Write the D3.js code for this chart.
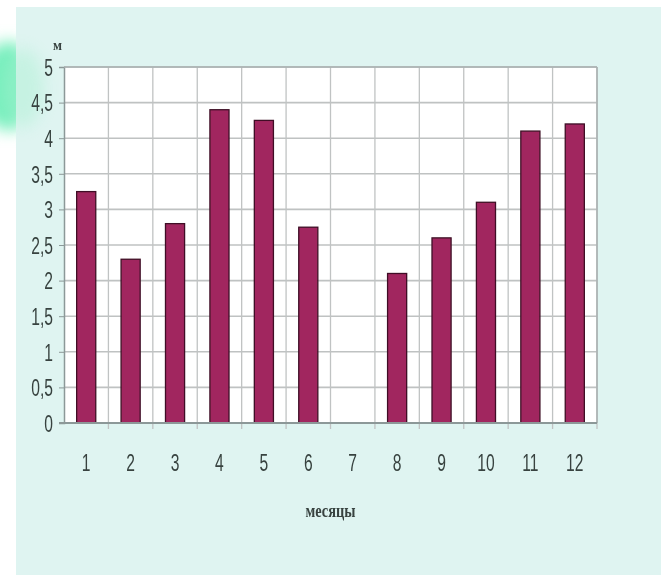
<!DOCTYPE html>
<html>
<head>
<meta charset="utf-8">
<script src="https://cdn.jsdelivr.net/npm/d3@7/dist/d3.min.js"></script>
<style>
  html, body { margin: 0; padding: 0; background: #ffffff; }
  svg { display: block; }
</style>
</head>
<body>
<script>
// Monthly values (м) by month number
const months = ["1", "2", "3", "4", "5", "6", "7", "8", "9", "10", "11", "12"];
const values = [3.25, 2.3, 2.8, 4.4, 4.25, 2.75, 0, 2.1, 2.6, 3.1, 4.1, 4.2];
const yTicks = [0, 0.5, 1, 1.5, 2, 2.5, 3, 3.5, 4, 4.5, 5];
const yUnit = "м";
const xTitle = "месяцы";

const W = 661, H = 587;
const plot = { left: 64, right: 597, top: 67, bottom: 423 };
const labelFont = "'Liberation Sans', Arial, sans-serif";
const squeeze = 0.68; // condensed look for the tick digits

const svg = d3.select("body").append("svg")
  .attr("width", W).attr("height", H);

const defs = svg.append("defs");
defs.append("filter").attr("id", "soft")
  .append("feGaussianBlur").attr("stdDeviation", 0.55);
defs.append("filter").attr("id", "glow")
  .attr("x", "-50%").attr("y", "-50%").attr("width", "200%").attr("height", "200%")
  .append("feGaussianBlur").attr("stdDeviation", 8);

// background panel and the green glow at its left edge
svg.append("rect").attr("x", 0).attr("y", 0).attr("width", W).attr("height", H).attr("fill", "#ffffff");
svg.append("ellipse").attr("cx", 8).attr("cy", 86).attr("rx", 28).attr("ry", 44)
  .attr("fill", "#72efbb").attr("filter", "url(#glow)");
svg.append("rect").attr("x", 16).attr("y", 7).attr("width", W - 16).attr("height", 568)
  .attr("fill", "#dff4f1");
svg.append("ellipse").attr("cx", 22).attr("cy", 88).attr("rx", 22).attr("ry", 40)
  .attr("fill", "#a8f0d0").attr("opacity", 0.45).attr("filter", "url(#glow)");

const g = svg.append("g").attr("filter", "url(#soft)");

const x = d3.scaleBand().domain(months)
  .range([plot.left, plot.right]).paddingInner(0.57).paddingOuter(0.285);
const y = d3.scaleLinear().domain([0, 5]).range([plot.bottom, plot.top]);

// plot area
g.append("rect")
  .attr("x", plot.left).attr("y", plot.top)
  .attr("width", plot.right - plot.left).attr("height", plot.bottom - plot.top)
  .attr("fill", "#ffffff");

// horizontal grid
g.append("g").selectAll("line").data(yTicks.filter(d => d > 0)).join("line")
  .attr("x1", plot.left).attr("x2", plot.right)
  .attr("y1", d => y(d)).attr("y2", d => y(d))
  .attr("stroke", "#bfc2c2").attr("stroke-width", 1.6);

// vertical grid at the month band boundaries
const edges = d3.range(1, months.length + 1)
  .map(i => plot.left + i * (plot.right - plot.left) / months.length);
g.append("g").selectAll("line").data(edges).join("line")
  .attr("x1", d => d).attr("x2", d => d)
  .attr("y1", plot.top).attr("y2", plot.bottom + 6)
  .attr("stroke", "#c0c3c3").attr("stroke-width", 1.3);

// y axis
const yAxis = d3.axisLeft(y).tickValues(yTicks).tickSize(5)
  .tickFormat(d => String(d).replace(".", ","));
const ya = g.append("g").attr("transform", `translate(${plot.left},0)`).call(yAxis);
ya.select(".domain").attr("stroke", "#8c9898").attr("stroke-width", 1.5);
ya.selectAll(".tick line").attr("stroke", "#8c9898");
ya.selectAll(".tick text")
  .attr("x", 0).attr("dy", "0.36em")
  .attr("transform", `translate(-11,0) scale(${squeeze},1)`)
  .attr("fill", "#37423f")
  .style("font-family", labelFont)
  .style("font-size", "23px");

// x axis
const xAxis = d3.axisBottom(x).tickSize(0).tickPadding(0);
const xa = g.append("g").attr("transform", `translate(0,${plot.bottom})`).call(xAxis);
xa.select(".domain").remove();
xa.selectAll(".tick text")
  .attr("y", 48)
  .attr("dy", 0)
  .attr("transform", `scale(${squeeze},1)`)
  .attr("fill", "#37423f")
  .style("font-family", labelFont)
  .style("font-size", "23px");

// plot border
g.append("line").attr("x1", plot.left).attr("x2", plot.right).attr("y1", plot.top).attr("y2", plot.top)
  .attr("stroke", "#a9b0b0").attr("stroke-width", 1.5);
g.append("line").attr("x1", plot.right).attr("x2", plot.right).attr("y1", plot.top).attr("y2", plot.bottom)
  .attr("stroke", "#a9b0b0").attr("stroke-width", 1.5);

// bars
g.append("g").selectAll("rect").data(values.map((v, i) => ({ m: months[i], v })).filter(d => d.v > 0))
  .join("rect")
  .attr("x", d => x(d.m)).attr("width", x.bandwidth())
  .attr("y", d => y(d.v)).attr("height", d => y(0) - y(d.v))
  .attr("fill", "#a1285f").attr("stroke", "#3f1026").attr("stroke-width", 1.3);

// x axis baseline
g.append("line").attr("x1", plot.left - 5).attr("x2", plot.right).attr("y1", plot.bottom).attr("y2", plot.bottom)
  .attr("stroke", "#8c9898").attr("stroke-width", 2);

// unit label
g.append("text").attr("x", 53).attr("y", 50).text(yUnit)
  .attr("fill", "#37423f")
  .attr("textLength", 9).attr("lengthAdjust", "spacingAndGlyphs")
  .style("font-family", "'Liberation Serif', serif").style("font-size", "15px").style("font-weight", "bold");

// x axis title
g.append("text").attr("x", (plot.left + plot.right) / 2).attr("y", 517).attr("text-anchor", "middle")
  .text(xTitle)
  .attr("fill", "#37423f")
  .attr("textLength", 50).attr("lengthAdjust", "spacingAndGlyphs")
  .style("font-family", "'Liberation Serif', serif").style("font-size", "18px").style("font-weight", "bold");
</script>
</body>
</html>
